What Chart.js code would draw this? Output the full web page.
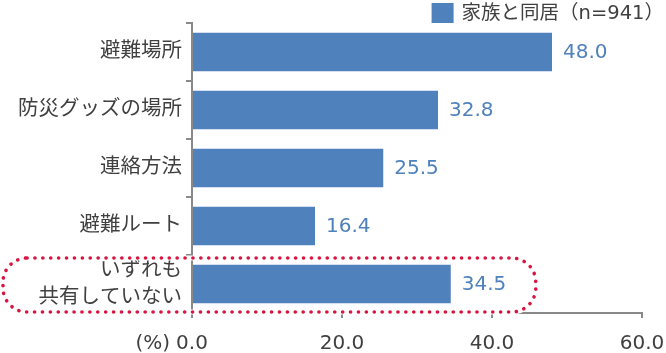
<!DOCTYPE html>
<html>
<head>
<meta charset="utf-8">
<script src="https://cdn.jsdelivr.net/npm/chart.js@4"></script>
<style>
html,body{margin:0;padding:0;background:#fff;}
#wrap{position:relative;width:666px;height:353px;}
</style>
</head>
<body>
<div id="wrap"><canvas id="c" width="666" height="353"></canvas></div>
<script>
/* 家族と同居 — shared disaster info, horizontal bars */
const categories=['避難場所','防災グッズの場所','連絡方法','避難ルート',['いずれも','共有していない']];
const values=[48.0,32.8,25.5,16.4,34.5];
const seriesLabel='家族と同居（n=941）';
const xMin=0,xMax=60,xStep=20;
const unitLabel='(%)';
const highlightIndex=4; // the circled row

const FONT='"DejaVu Sans","Noto Sans CJK JP",sans-serif';
const BLUE='#4F81BD',AXIS='#898989',TXT='#404040',RED='#D8143F';

const extras={
  id:'extras',
  afterDatasetsDraw(chart){
    const ctx=chart.ctx,x=chart.scales.x,y=chart.scales.y,meta=chart.getDatasetMeta(0);
    const ds=chart.data.datasets[0];
    ctx.save();
    // legend, top right
    ctx.font='19.5px '+FONT;ctx.textBaseline='middle';ctx.textAlign='right';
    ctx.fillStyle=TXT;ctx.fillText(ds.label,chart.width-2,14);
    const x0=chart.width-2-ctx.measureText(ds.label).width;
    ctx.fillStyle=ds.backgroundColor;ctx.fillRect(x0-30,3,22,20);
    // value labels
    ctx.font='20px '+FONT;ctx.fillStyle=BLUE;ctx.textAlign='left';
    meta.data.forEach(function(bar,i){ctx.fillText(values[i].toFixed(1),bar.x+11,bar.y+1);});
    // unit label next to 0.0
    ctx.fillStyle=TXT;ctx.textAlign='right';
    ctx.fillText(unitLabel,x.left-22,x.top+31);
    // dotted highlight round box around the last row
    const band=(y.bottom-y.top)/categories.length;
    const cy=y.getPixelForValue(highlightIndex);
    const top=cy-band/2+3,bot=cy+band/2-1;
    const left=3,right=x.getPixelForValue(values[highlightIndex])+85,r=24;
    ctx.beginPath();
    ctx.moveTo(left+r,top);ctx.lineTo(right-r,top);ctx.arcTo(right,top,right,top+r,r);
    ctx.lineTo(right,bot-r);ctx.arcTo(right,bot,right-r,bot,r);
    ctx.lineTo(left+r,bot);ctx.arcTo(left,bot,left,bot-r,r);
    ctx.lineTo(left,top+r);ctx.arcTo(left,top,left+r,top,r);
    ctx.closePath();
    ctx.strokeStyle='#fff';ctx.lineWidth=5;ctx.stroke();
    ctx.strokeStyle=RED;ctx.lineWidth=3.6;ctx.lineCap='round';ctx.setLineDash([0.1,7.8]);ctx.stroke();
    ctx.restore();
  }
};

new Chart(document.getElementById('c'),{
  type:'bar',
  data:{labels:categories,datasets:[{label:seriesLabel,data:values,backgroundColor:BLUE,borderWidth:0,categoryPercentage:1,barPercentage:0.66}]},
  options:{
    indexAxis:'y',responsive:false,animation:false,devicePixelRatio:1,
    layout:{padding:{left:0,right:0,top:23,bottom:0}},
    scales:{
      x:{min:xMin,max:xMax,
        ticks:{stepSize:xStep,color:TXT,font:{family:FONT,size:20},padding:14,maxRotation:0,callback:function(v){return Number(v).toFixed(1);}},
        grid:{drawOnChartArea:false,color:AXIS,tickLength:5,lineWidth:2},
        border:{color:AXIS,width:2},
        afterFit:function(s){s.height=40;s.paddingRight=24;}},
      y:{
        ticks:{color:TXT,font:{family:FONT,size:20.5,lineHeight:1.3},padding:4,autoSkip:false},
        grid:{offset:true,drawOnChartArea:false,color:AXIS,tickLength:6,lineWidth:2},
        border:{color:AXIS,width:2},
        afterFit:function(s){s.width=192;s.paddingTop=0;s.paddingBottom=0;}}
    },
    plugins:{
      legend:{display:false},
      tooltip:{enabled:false}
    }
  },
  plugins:[extras]
});
</script>
</body>
</html>
